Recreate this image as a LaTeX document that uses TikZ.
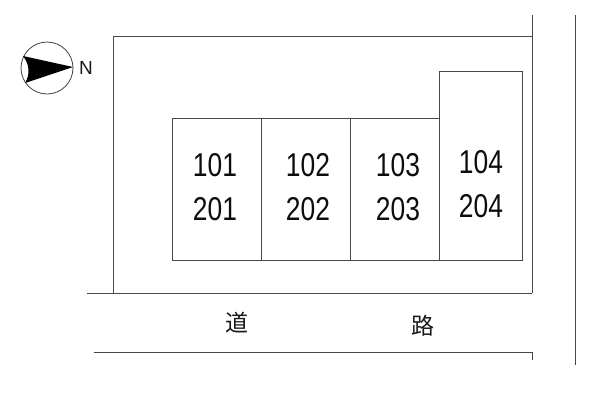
\documentclass[tikz,border=0pt]{standalone}
\usepackage{fontspec}
\setmainfont{Liberation Sans}
\newfontfamily\cjk{Noto Sans CJK JP}
\newfontfamily\roomfont[FakeStretch=0.8]{Liberation Sans}
\tikzset{ln/.style={draw=black!72,line width=0.9pt},room/.style={font=\roomfont\fontsize{33}{43.5}\selectfont,align=center,text=black!95},kanji/.style={font=\cjk\fontsize{23}{23}\selectfont,text=black!90}}
\begin{document}
\begin{tikzpicture}[x=1pt,y=-1pt,line join=miter]
\useasboundingbox (0,0) rectangle (600,408);
\draw[ln] (87,293) -- (532,293);
\draw[ln] (113,293) -- (113,36) -- (532,36);
\draw[ln] (532,15) -- (532,293);
\draw[ln] (94,352) -- (532,352) -- (532,360);
\draw[ln] (575,15) -- (575,365);
\draw[ln] (172,118) rectangle (439,260);
\draw[ln] (261,118) -- (261,260);
\draw[ln] (350,118) -- (350,260);
\draw[ln] (439,71) rectangle (522,260);
\node[room] (a) at (215,187) {101\\201};
\node[room] (b) at (308,187) {102\\202};
\node[room] (c) at (398,187) {103\\203};
\node[room] (d) at (481,184) {104\\204};
\node[kanji] (e) at (237,323) {道};
\node[kanji] (f) at (423,326) {路};
\draw[black!75,line width=0.8pt] (47,68) circle (26);
\fill[black] (23,56) -- (73,67) -- (25,83) .. controls (30,75) and (30,65) .. (23,56) -- cycle;
\node[font=\fontsize{19}{19}\selectfont,text=black!90] (n) at (86,68) {N};
\end{tikzpicture}
\end{document}
